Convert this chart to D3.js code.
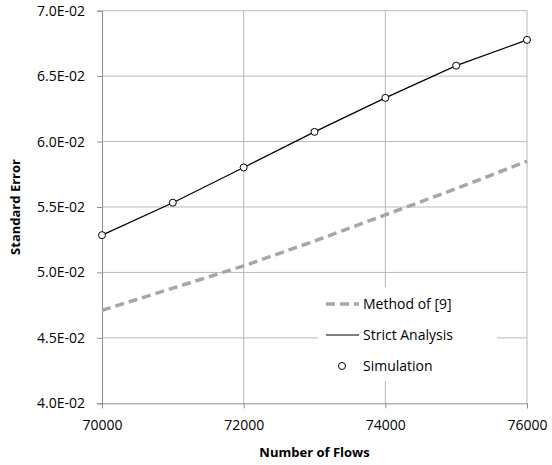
<!DOCTYPE html>
<html>
<head>
<meta charset="utf-8" />
<title>Standard Error vs Number of Flows</title>
<script src="https://cdn.jsdelivr.net/npm/d3@7"></script>
<style>
html, body { margin:0; padding:0; background:#fff; }
svg { display:block; font-family:"Open Sans", sans-serif; }
</style>
</head>
<body>
<script>
// data
var flows = [70000, 71000, 72000, 73000, 74000, 75000, 76000];
var method9 = [0.0471, 0.0488, 0.0505, 0.0524, 0.0544, 0.0564, 0.0585];
var strict = [0.05285, 0.05533, 0.05802, 0.06074, 0.06334, 0.0658, 0.06777];
var simulation = [0.05285, 0.05533, 0.05802, 0.06074, 0.06334, 0.0658, 0.06777];
var xTicks = [70000, 72000, 74000, 76000];
var yTicks = [0.040, 0.045, 0.050, 0.055, 0.060, 0.065, 0.070];
var legendNames = ["Method of [9]", "Strict Analysis", "Simulation"];

var W = 552, H = 465;
// plot box (note: "top" is reserved on window, so use pTop etc.)
var pLeft = 102, pRight = 527, pTop = 10.7, pBottom = 403.3;

var svg = d3.select("body").append("svg").attr("width", W).attr("height", H);

var x = d3.scaleLinear().domain([70000, 76000]).range([pLeft, pRight]);
var y = d3.scaleLinear().domain([0.04, 0.07]).range([pBottom, pTop]);

// gridlines
svg.append("g").selectAll("line").data(yTicks.slice(1)).enter().append("line")
  .attr("x1", pLeft).attr("x2", pRight)
  .attr("y1", function(d){ return y(d); }).attr("y2", function(d){ return y(d); })
  .attr("stroke", "#b9b9b9").attr("stroke-width", 1);
svg.append("g").selectAll("line").data(xTicks.slice(1)).enter().append("line")
  .attr("y1", pTop).attr("y2", pBottom)
  .attr("x1", function(d){ return x(d); }).attr("x2", function(d){ return x(d); })
  .attr("stroke", "#b9b9b9").attr("stroke-width", 1);

// axes
var xAxis = svg.append("g").attr("transform", "translate(0," + pBottom + ")")
  .call(d3.axisBottom(x).tickValues(xTicks).tickSize(5).tickPadding(12).tickFormat(d3.format("d")));
var yAxis = svg.append("g").attr("transform", "translate(" + pLeft + ",0)")
  .call(d3.axisLeft(y).tickValues(yTicks).tickSize(5).tickPadding(12)
    .tickFormat(function(d){ return d.toExponential(1).replace("e-", "E-0").toUpperCase(); }));
[xAxis, yAxis].forEach(function(g){
  g.select(".domain").attr("stroke", "#8c8c8c");
  g.selectAll(".tick line").attr("stroke", "#8c8c8c");
  g.selectAll("text").attr("font-family", "Open Sans").attr("font-size", "14px").attr("fill", "#000");
});

// lines
var line = d3.line().x(function(d){ return x(d[0]); }).y(function(d){ return y(d[1]); });
svg.append("path").datum(d3.zip(flows, method9))
  .attr("d", line).attr("fill", "none")
  .attr("stroke", "#a6a6a6").attr("stroke-width", 3.5).attr("stroke-dasharray", "9,5");
svg.append("path").datum(d3.zip(flows, strict))
  .attr("d", line).attr("fill", "none")
  .attr("stroke", "#000").attr("stroke-width", 1.2);
svg.append("g").selectAll("circle").data(d3.zip(flows, simulation)).enter().append("circle")
  .attr("cx", function(d){ return x(d[0]); }).attr("cy", function(d){ return y(d[1]); })
  .attr("r", 3.5).attr("fill", "#fff").attr("stroke", "#000").attr("stroke-width", 1);

// legend
var lg = svg.append("g");
lg.append("rect").attr("x", 318).attr("y", 287).attr("width", 179).attr("height", 94).attr("fill", "#fff");
var rowY = [304, 335, 366];
legendNames.forEach(function(name, i){
  var yy = rowY[i];
  if (i == 0) {
    lg.append("line").attr("x1", 326).attr("x2", 359).attr("y1", yy).attr("y2", yy)
      .attr("stroke", "#a6a6a6").attr("stroke-width", 3.5).attr("stroke-dasharray", "9,5");
  } else if (i == 1) {
    lg.append("line").attr("x1", 326).attr("x2", 359).attr("y1", yy).attr("y2", yy)
      .attr("stroke", "#000").attr("stroke-width", 1.2);
  } else {
    lg.append("circle").attr("cx", 342).attr("cy", yy).attr("r", 3.5)
      .attr("fill", "#fff").attr("stroke", "#000");
  }
  lg.append("text").attr("x", 363).attr("y", yy).attr("dy", "0.35em")
    .attr("font-size", "14px").attr("fill", "#000").text(name);
});

// axis titles
svg.append("text").attr("x", (pLeft + pRight) / 2).attr("y", 457).attr("text-anchor", "middle")
  .attr("font-size", "13px").attr("font-weight", "bold").text("Number of Flows");
svg.append("text").attr("transform", "translate(20," + ((pTop + pBottom) / 2) + ") rotate(-90)")
  .attr("text-anchor", "middle").attr("font-size", "13px").attr("font-weight", "bold").text("Standard Error");
</script>
</body>
</html>
